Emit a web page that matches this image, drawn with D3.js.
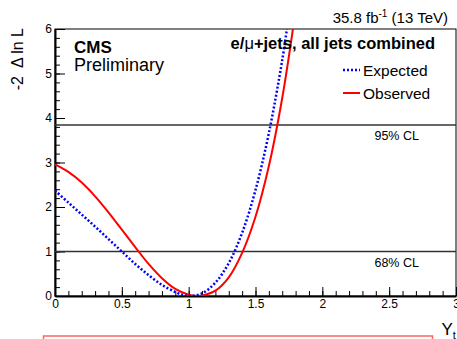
<!DOCTYPE html>
<html>
<head>
<meta charset="utf-8">
<script src="https://cdn.jsdelivr.net/npm/d3@7"></script>
<style>
  body { margin: 0; background: #fff; }
  svg { display: block; font-family: "Liberation Sans", Arial, Helvetica, sans-serif; }
</style>
</head>
<body>
<div id="chart"></div>
<script>
// scan points, Y_t
const expectedX = [0, 0.1, 0.2, 0.3, 0.4, 0.5, 0.6, 0.7, 0.8, 0.9, 0.96, 1.01, 1.1, 1.2, 1.3, 1.4, 1.5, 1.6, 1.7, 1.735];
const expectedY = [2.37, 2.1, 1.83, 1.56, 1.28, 1.0, 0.72, 0.47, 0.25, 0.09, 0.02, 0.0, 0.06, 0.3, 0.74, 1.42, 2.38, 3.66, 5.3, 6.0];
const observedX = [0, 0.1, 0.2, 0.3, 0.4, 0.5, 0.6, 0.7, 0.8, 0.9, 1.0, 1.07, 1.1, 1.2, 1.3, 1.4, 1.5, 1.6, 1.7, 1.78];
const observedY = [2.96, 2.79, 2.55, 2.24, 1.88, 1.49, 1.1, 0.72, 0.4, 0.16, 0.03, 0.0, 0.01, 0.12, 0.42, 0.97, 1.78, 2.92, 4.45, 6.0];
const clLevels = [1.0, 3.84];
const clLabels = ['68% CL', '95% CL'];
const xTicks = [0, 0.5, 1, 1.5, 2, 2.5, 3];
const yTicks = [0, 1, 2, 3, 4, 5, 6];

const width = 457, height = 339;
const margin = { top: 29, right: 1, bottom: 43, left: 55 };

const svg = d3.select('#chart').append('svg')
  .attr('width', width)
  .attr('height', height);

const x = d3.scaleLinear().domain([0, 3]).range([margin.left, width - margin.right]);
const y = d3.scaleLinear().domain([0, 6]).range([height - margin.bottom, margin.top]);

svg.append('defs').append('clipPath').attr('id', 'plot-clip')
  .append('rect')
  .attr('x', x(0)).attr('y', y(6))
  .attr('width', x(3) - x(0)).attr('height', y(0) - y(6));

// frame
svg.append('rect')
  .attr('x', x(0)).attr('y', y(6))
  .attr('width', x(3) - x(0)).attr('height', y(0) - y(6))
  .attr('fill', 'none')
  .attr('stroke', '#000')
  .attr('stroke-width', 1);

// minor ticks
svg.append('g')
  .attr('transform', `translate(${x(0)},0)`)
  .call(d3.axisLeft(y).tickValues(d3.range(0, 6.01, 0.2)).tickSize(-5).tickFormat(''))
  .call(g => g.select('.domain').remove());
svg.append('g')
  .attr('transform', `translate(0,${y(0)})`)
  .call(d3.axisBottom(x).tickValues(d3.range(0, 3.01, 0.1)).tickSize(-5).tickFormat(''))
  .call(g => g.select('.domain').remove());

// major axes
const yAxis = svg.append('g')
  .attr('transform', `translate(${x(0)},0)`)
  .call(d3.axisLeft(y).tickValues(yTicks).tickSizeInner(-10).tickSizeOuter(0).tickPadding(3).tickFormat(d3.format('d')));
const xAxis = svg.append('g')
  .attr('transform', `translate(0,${y(0)})`)
  .call(d3.axisBottom(x).tickValues(xTicks).tickSizeInner(-9).tickSizeOuter(0).tickPadding(3).tickFormat(d => d));

[xAxis, yAxis].forEach(g => {
  g.selectAll('text').attr('font-size', 12).attr('fill', '#000')
    .attr('font-family', '"Liberation Sans", Arial, sans-serif');
  g.select('.domain').attr('stroke-width', 2);
});

// CL lines
svg.append('g').selectAll('line')
  .data(clLevels)
  .join('line')
  .attr('x1', x(0)).attr('x2', x(3))
  .attr('y1', d => y(d)).attr('y2', d => y(d))
  .attr('stroke', '#333')
  .attr('stroke-width', 1.5);

svg.append('g').selectAll('text')
  .data(clLevels)
  .join('text')
  .attr('x', x(2.39))
  .attr('y', d => y(d) + 15)
  .attr('font-size', 12.5)
  .text((d, i) => clLabels[i]);

// curves
const line = d3.line().x(d => x(d[0])).y(d => y(d[1])).curve(d3.curveCatmullRom.alpha(0.5));
const plot = svg.append('g').attr('clip-path', 'url(#plot-clip)');

plot.append('path')
  .datum(d3.zip(observedX, observedY))
  .attr('d', line)
  .attr('fill', 'none')
  .attr('stroke', '#ff0000')
  .attr('stroke-width', 2);

plot.append('path')
  .datum(d3.zip(expectedX, expectedY))
  .attr('d', line)
  .attr('fill', 'none')
  .attr('stroke', '#0000ff')
  .attr('stroke-width', 2.5)
  .attr('stroke-dasharray', '2,2');

// labels
const title = svg.append('text')
  .attr('x', 448).attr('y', 23)
  .attr('text-anchor', 'end')
  .attr('font-size', 15);
title.append('tspan').text('35.8 fb');
title.append('tspan').attr('font-size', 10).attr('dy', -6).text('-1');
title.append('tspan').attr('dy', 6).text(' (13 TeV)');

svg.append('text')
  .attr('x', 74).attr('y', 53)
  .attr('font-size', 17).attr('font-weight', 'bold')
  .text('CMS');
svg.append('text')
  .attr('x', 74).attr('y', 71)
  .attr('font-size', 18)
  .text('Preliminary');

const channel = svg.append('text')
  .attr('x', 435).attr('y', 49)
  .attr('text-anchor', 'end')
  .attr('font-size', 16.5).attr('font-weight', 'bold');
channel.append('tspan').text('e/');
channel.append('tspan').attr('font-weight', 'normal').text('\u03bc');
channel.append('tspan').text('+jets, all jets combined');

// legend
const legendItems = [
  { name: 'Expected', color: '#0000ff', dash: '2,2', width: 2.5, y: 70 },
  { name: 'Observed', color: '#ff0000', dash: null, width: 2, y: 93 }
];
const legend = svg.append('g');
legend.selectAll('line')
  .data(legendItems)
  .join('line')
  .attr('x1', 343).attr('x2', 360)
  .attr('y1', d => d.y).attr('y2', d => d.y)
  .attr('stroke', d => d.color)
  .attr('stroke-width', d => d.width)
  .attr('stroke-dasharray', d => d.dash);
legend.selectAll('text')
  .data(legendItems)
  .join('text')
  .attr('x', 363)
  .attr('y', d => d.y + 5.5)
  .attr('font-size', 15.5)
  .text(d => d.name);

// axis titles
svg.append('text')
  .attr('transform', 'translate(23,28) rotate(-90)')
  .attr('text-anchor', 'end')
  .attr('font-size', 16)
  .attr('xml:space', 'preserve')
  .text('-2  \u0394 ln L');

const xt = svg.append('text')
  .attr('x', 441.5).attr('y', 335)
  .attr('font-size', 17);
xt.append('tspan').text('Y');
xt.append('tspan').attr('font-size', 11).attr('dy', 4).text('t');

// box below the plot
svg.append('rect')
  .attr('x', 43.5).attr('y', 336)
  .attr('width', 389).attr('height', 30)
  .attr('fill', 'none')
  .attr('stroke', '#ff6464')
  .attr('stroke-width', 1.5);
</script>
</body>
</html>
